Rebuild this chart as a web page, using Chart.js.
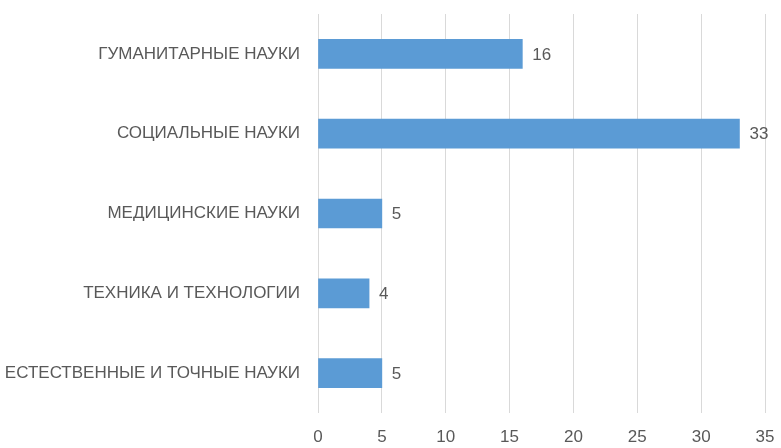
<!DOCTYPE html>
<html>
<head>
<meta charset="utf-8">
<script src="https://cdn.jsdelivr.net/npm/chart.js@4"></script>
<style>
    html, body { margin: 0; padding: 0; background: #fff; }
    #wrap { width: 781px; height: 448px; }
</style>
</head>
<body>
<div id="wrap"><canvas id="chart" width="781" height="448"></canvas></div>
<script>
// Data
const categories = [
    "ГУМАНИТАРНЫЕ НАУКИ",
    "СОЦИАЛЬНЫЕ НАУКИ",
    "МЕДИЦИНСКИЕ НАУКИ",
    "ТЕХНИКА И ТЕХНОЛОГИИ",
    "ЕСТЕСТВЕННЫЕ И ТОЧНЫЕ НАУКИ"
];
const counts = [16, 33, 5, 4, 5];
const xTicks = [0, 5, 10, 15, 20, 25, 30, 35];

const FONT = "'Liberation Sans', Arial, sans-serif";
const TEXT = "#595959";

// value labels at the end of each bar
const valueLabels = {
    id: "valueLabels",
    afterDatasetsDraw(chart) {
        const ctx = chart.ctx;
        const meta = chart.getDatasetMeta(0);
        ctx.save();
        ctx.font = "17px " + FONT;
        ctx.fillStyle = TEXT;
        ctx.textAlign = "left";
        ctx.textBaseline = "middle";
        meta.data.forEach((bar, i) => {
            ctx.fillText(String(counts[i]), bar.x + 10, bar.y + 1);
        });
        ctx.restore();
    }
};

new Chart(document.getElementById("chart"), {
    type: "bar",
    data: {
        labels: categories,
        datasets: [{
            data: counts,
            backgroundColor: "#5b9bd5",
            borderWidth: 0,
            barThickness: 29
        }]
    },
    options: {
        indexAxis: "y",
        responsive: false,
        animation: false,
        layout: { padding: { top: 14, right: 16, bottom: 0, left: 0 } },
        plugins: {
            legend: { display: false },
            tooltip: { enabled: false }
        },
        scales: {
            x: {
                min: 0,
                max: 35,
                afterBuildTicks(scale) {
                    scale.ticks = xTicks.map(v => ({ value: v }));
                },
                afterFit(scale) {
                    scale.height = 35;
                    scale.paddingLeft = 0;
                    scale.paddingRight = 0;
                },
                grid: { color: "#d9d9d9", drawTicks: false, lineWidth: 1 },
                border: { display: false },
                ticks: {
                    color: TEXT,
                    font: { family: FONT, size: 17 },
                    padding: 14
                }
            },
            y: {
                afterFit(scale) {
                    scale.width = 318;
                    scale.paddingTop = 0;
                    scale.paddingBottom = 0;
                },
                grid: { display: false, drawTicks: false },
                border: { display: false },
                ticks: {
                    color: TEXT,
                    font: { family: FONT, size: 17 },
                    padding: 18
                }
            }
        }
    },
    plugins: [valueLabels]
});
</script>
</body>
</html>
